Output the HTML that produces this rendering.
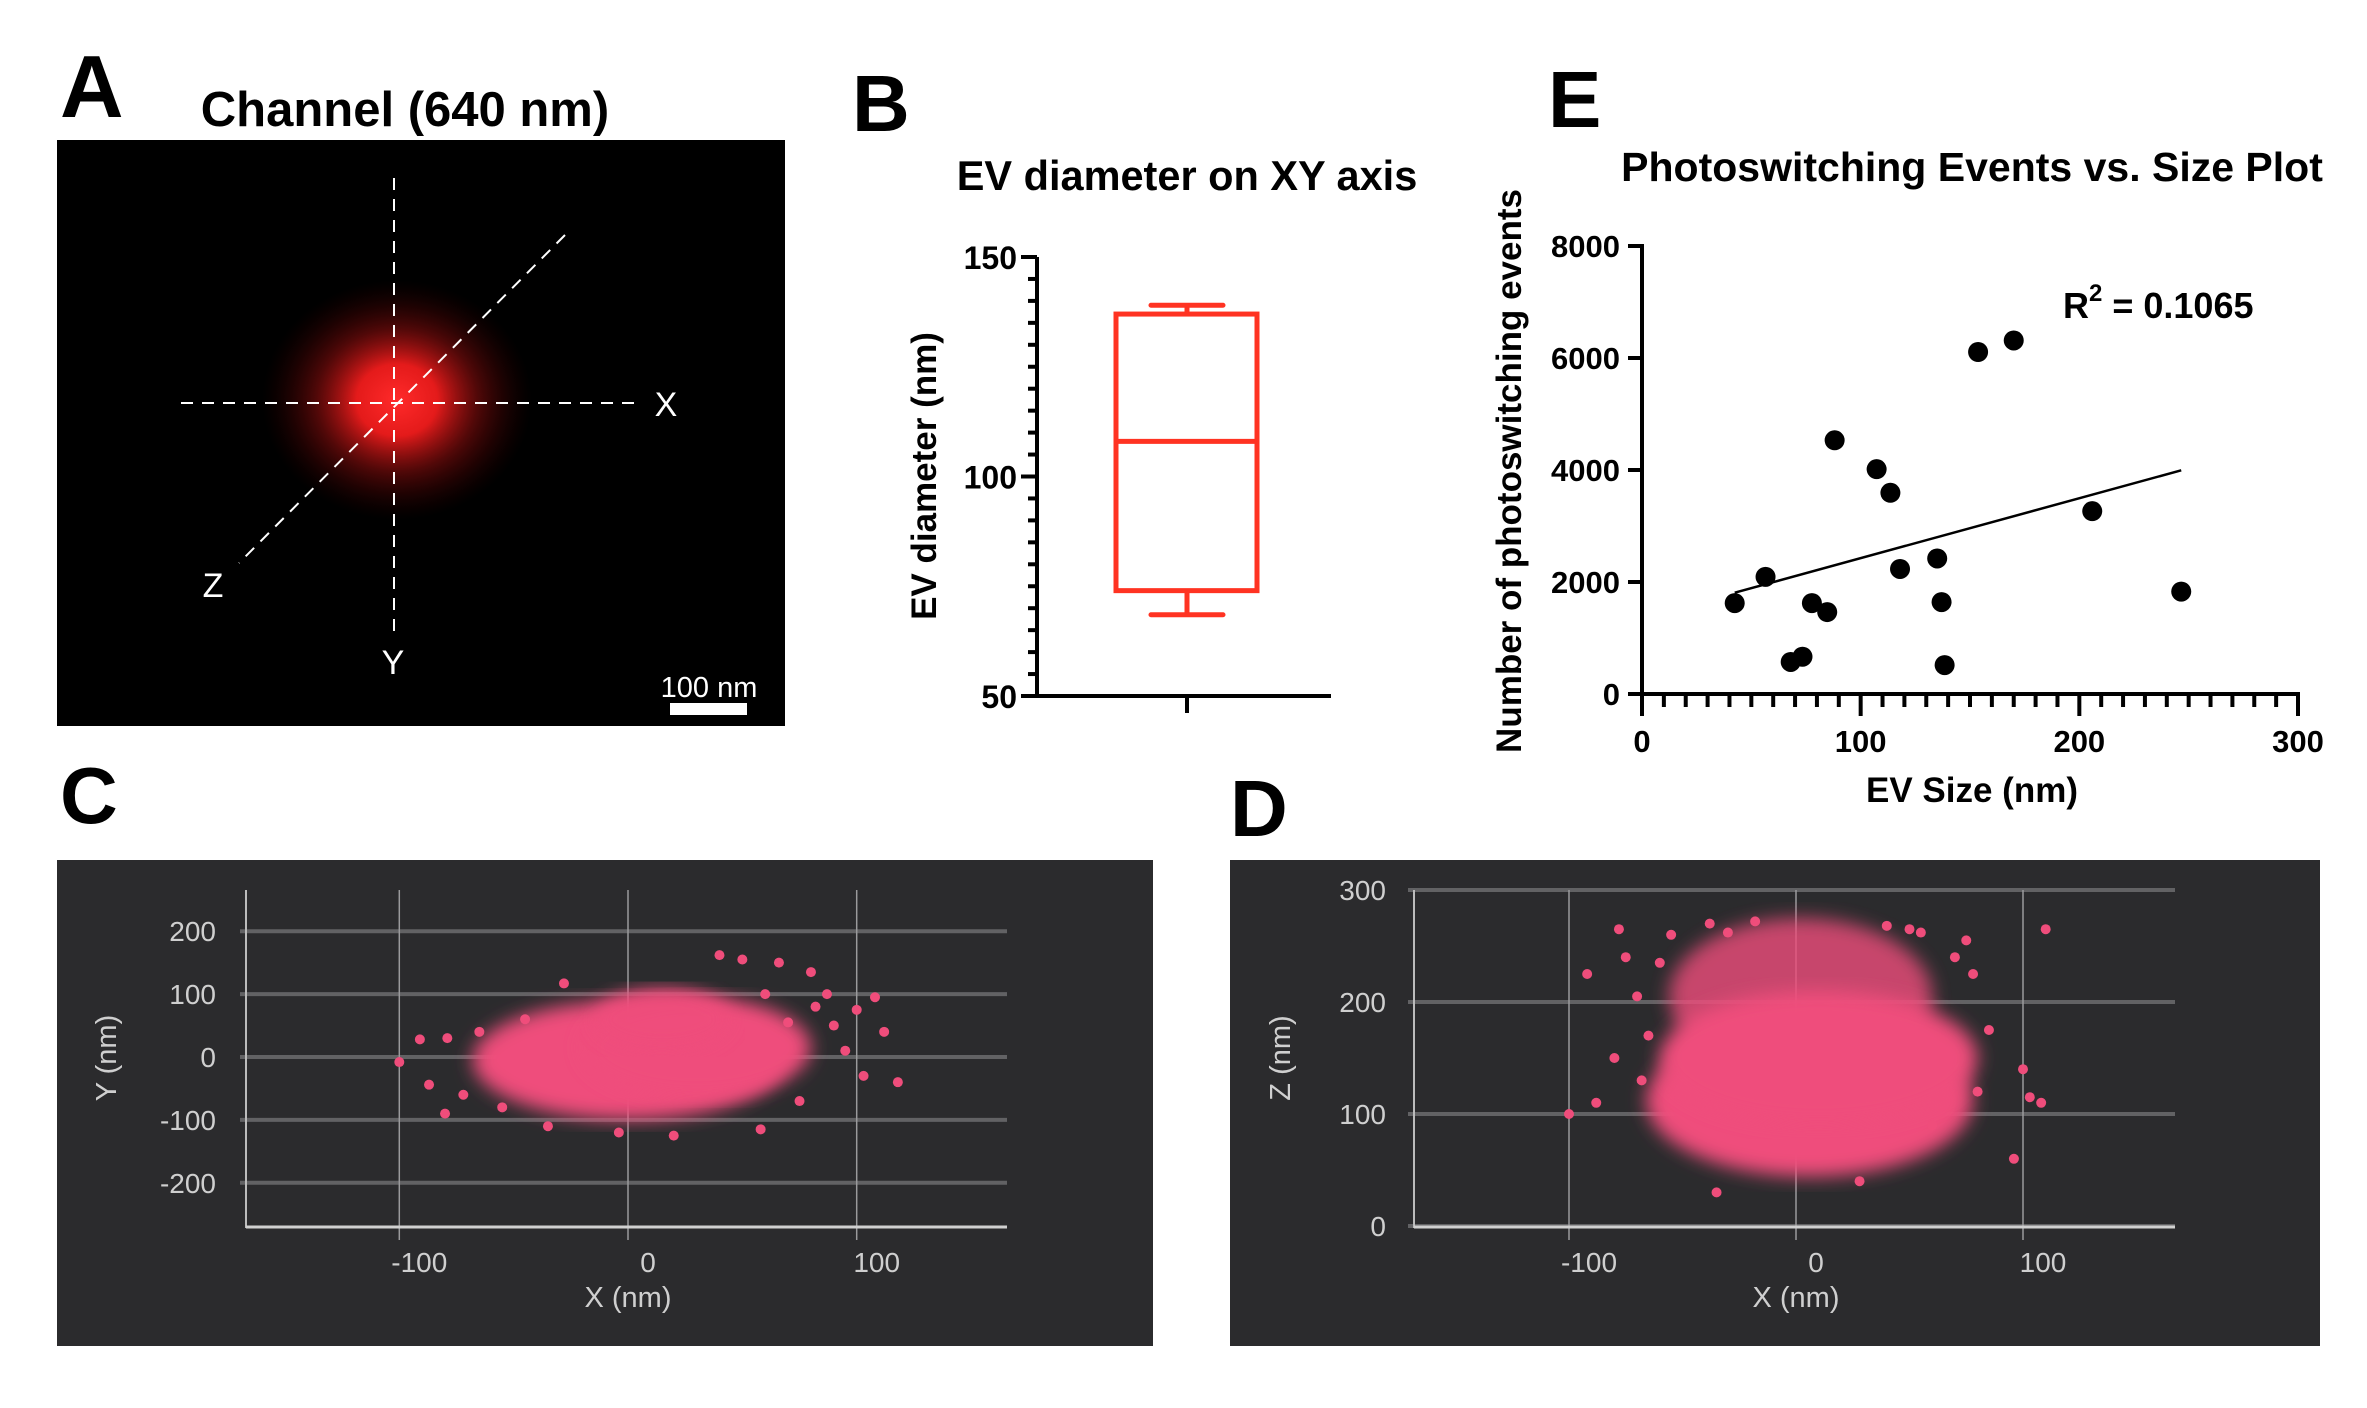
<!DOCTYPE html>
<html><head><meta charset="utf-8">
<style>
html,body{margin:0;padding:0;background:#fff;}
svg{display:block;font-family:"Liberation Sans",sans-serif;}
</style></head>
<body>
<svg id="fig" width="2367" height="1408" viewBox="0 0 2367 1408" xmlns="http://www.w3.org/2000/svg">
<defs>
<radialGradient id="blobg" cx="50%" cy="50%" r="50%">
<stop offset="0" stop-color="#ff2a2a" stop-opacity="1"/>
<stop offset="0.3" stop-color="#f01c1c" stop-opacity="0.95"/>
<stop offset="0.6" stop-color="#a01010" stop-opacity="0.5"/>
<stop offset="1" stop-color="#400000" stop-opacity="0"/>
</radialGradient>
<filter id="soft"><feGaussianBlur stdDeviation="9"/></filter>
</defs>

<!-- Panel A -->
<text x="60" y="117" font-size="88" font-weight="bold">A</text>
<text x="405" y="126" font-size="49" font-weight="bold" text-anchor="middle">Channel (640 nm)</text>
<rect x="57" y="140" width="728" height="586" fill="#000"/>
<ellipse cx="397" cy="400" rx="135" ry="120" fill="url(#blobg)"/>
<g stroke="#fff" stroke-width="2" stroke-dasharray="12,9" fill="none">
<line x1="394" y1="178" x2="394" y2="634"/>
<line x1="181" y1="403" x2="642" y2="403"/>
<line x1="565" y1="235" x2="239" y2="563"/>
</g>
<text x="666" y="416" font-size="34" fill="#fff" text-anchor="middle">X</text>
<text x="213" y="597" font-size="34" fill="#fff" text-anchor="middle">Z</text>
<text x="393" y="674" font-size="34" fill="#fff" text-anchor="middle">Y</text>
<rect x="670" y="703" width="77" height="12" fill="#fff"/>
<text x="709" y="697" font-size="29" fill="#fff" text-anchor="middle">100 nm</text>

<!-- Panel B -->
<text x="852" y="131" font-size="80" font-weight="bold">B</text>
<text x="1187" y="190" font-size="41.5" font-weight="bold" text-anchor="middle">EV diameter on XY axis</text>
<g id="boxB"></g>

<!-- Panel E -->
<text x="1548" y="127" font-size="80" font-weight="bold">E</text>
<text x="1972" y="181" font-size="41" font-weight="bold" text-anchor="middle">Photoswitching Events vs. Size Plot</text>
<g id="scatE"></g>

<!-- Panel C / D -->
<text x="60" y="823" font-size="80" font-weight="bold">C</text>
<text x="1230" y="836" font-size="80" font-weight="bold">D</text>
<rect x="57" y="860" width="1096" height="486" fill="#2b2b2d"/>
<rect x="1230" y="860" width="1090" height="486" fill="#2b2b2d"/>
<g id="plotC"></g>
<g id="plotD"></g>
</svg>

<script>
// ---------- Panel B data ----------
const boxStats = [68.5, 74, 108, 137, 139]; // min, q1, median, q3, max
const bTicks = [50, 100, 150];
// ---------- Panel E data ----------
const evSize = [42.4,56.5,68,73.4,77.7,84.7,88.1,107.3,113.6,118,135,137,138.4,153.7,170,205.9,246.6];
const evEvents = [1623,2092,572,666,1623,1463,4531,4015,3593,2233,2420,1641,516,6107,6313,3265,1829];
const fitIntercept = [1356];
const fitSlope = [10.7];
const fitRange = [42.4, 246.6];
const eYTicks = [0,2000,4000,6000,8000];
const eXTicks = [0,100,200,300];
// ---------- Panel C data (nm) ----------
const cXTicks = [-100,0,100];
const cYTicks = [-200,-100,0,100,200];
const cCoreX = [0, 30, 15]; const cCoreY = [-5, 15, 60]; const cCoreRX = [68, 50, 30]; const cCoreRY = [95, 80, 50];
const cOutX = [-100,-91,-79,-87,-80,-72,-28,40,50,66,80,87,82,100,108,112,118,103,58,20,-4,-35,95,90,70,60,-65,-55,75,-45];
const cOutY = [-8,28,30,-44,-90,-60,117,162,155,150,135,100,80,75,95,40,-40,-30,-115,-125,-120,-110,10,50,55,100,40,-80,-70,60];
// ---------- Panel D data (nm) ----------
const dXTicks = [-100,0,100];
const dZTicks = [0,100,200,300];
const dCoreX = [6, 2, 10]; const dCoreZ = [112, 205, 150]; const dCoreRX = [72, 58, 70]; const dCoreRZ = [68, 70, 60];
const dOutX = [-100,-92,-78,-75,-70,-65,-55,-38,-30,-18,40,50,55,75,78,110,103,108,96,-35,28,-88,60,85,100,-80,-60,70,-68,80];
const dOutZ = [100,225,265,240,205,170,260,270,262,272,268,265,262,255,225,265,115,110,60,30,40,110,90,175,140,150,235,240,130,120];

const NS = 'http://www.w3.org/2000/svg';
function mk(parent, tag, attrs, text){
  const e = document.createElementNS(NS, tag);
  for (const k in attrs) e.setAttribute(k, attrs[k]);
  if (text !== undefined) e.textContent = text;
  parent.appendChild(e); return e;
}

// ===== Panel B =====
(function(){
  const g = document.getElementById('boxB');
  const y = v => 696 - (v - 50) * (696 - 257) / 100;
  const ax = 1037;
  let e = mk(g,'line',{x1:ax,y1:257,x2:ax,y2:698,stroke:'#000','stroke-width':4});
   
  e = mk(g,'line',{x1:1027,y1:696,x2:1331,y2:696,stroke:'#000','stroke-width':4});
   
  e = mk(g,'line',{x1:1187,y1:696,x2:1187,y2:713,stroke:'#000','stroke-width':4});
   
  for (let v = 50; v <= 150; v += 5){
    const major = bTicks.includes(v);
    e = mk(g,'line',{x1:ax-(major?16:9),y1:y(v),x2:ax,y2:y(v),stroke:'#000','stroke-width':4});
    
    
  }
  bTicks.forEach(v=>{
    e = mk(g,'text',{x:1017,y:y(v)+12,'font-size':32,'font-weight':'bold','text-anchor':'end'}, String(v));
     
  });
  e = mk(g,'text',{x:0,y:0,'font-size':35,'font-weight':'bold','text-anchor':'middle',transform:'translate(936,476) rotate(-90)'},'EV diameter (nm)');
   
  const red = '#ff3322', sw = 5, bx1 = 1116, bx2 = 1257, cx = 1187, cw = 36;
  e = mk(g,'rect',{x:bx1,y:y(boxStats[3]),width:bx2-bx1,height:y(boxStats[1])-y(boxStats[3]),fill:'none',stroke:red,'stroke-width':sw});
   
  e = mk(g,'line',{x1:bx1,y1:y(boxStats[2]),x2:bx2,y2:y(boxStats[2]),stroke:red,'stroke-width':sw});
   
  e = mk(g,'line',{x1:cx,y1:y(boxStats[3]),x2:cx,y2:y(boxStats[4]),stroke:red,'stroke-width':sw});
   
  e = mk(g,'line',{x1:cx-cw,y1:y(boxStats[4]),x2:cx+cw,y2:y(boxStats[4]),stroke:red,'stroke-width':sw,'stroke-linecap':'round'});
   
  e = mk(g,'line',{x1:cx,y1:y(boxStats[1]),x2:cx,y2:y(boxStats[0]),stroke:red,'stroke-width':sw});
   
  e = mk(g,'line',{x1:cx-cw,y1:y(boxStats[0]),x2:cx+cw,y2:y(boxStats[0]),stroke:red,'stroke-width':sw,'stroke-linecap':'round'});
   
})();

// ===== Panel E =====
(function(){
  const g = document.getElementById('scatE');
  const x = v => 1642 + v * (2298 - 1642) / 300;
  const y = v => 694 - v * (694 - 246) / 8000;
  let e = mk(g,'line',{x1:1642,y1:244,x2:1642,y2:696,stroke:'#000','stroke-width':4});
   
  e = mk(g,'line',{x1:1640,y1:694,x2:2300,y2:694,stroke:'#000','stroke-width':4});
   
  eYTicks.forEach(v=>{
    e = mk(g,'line',{x1:1628,y1:y(v),x2:1642,y2:y(v),stroke:'#000','stroke-width':4});
     
    e = mk(g,'text',{x:1620,y:y(v)+11,'font-size':31,'font-weight':'bold','text-anchor':'end'},String(v));
     
  });
  for (let v = 0; v <= 300; v += 10){
    const major = eXTicks.includes(v);
    e = mk(g,'line',{x1:x(v),y1:694,x2:x(v),y2:694+(major?22:13),stroke:'#000','stroke-width':4});
    
    
  }
  eXTicks.forEach(v=>{
    e = mk(g,'text',{x:x(v),y:752,'font-size':31,'font-weight':'bold','text-anchor':'middle'},String(v));
     
  });
  e = mk(g,'text',{x:1972,y:802,'font-size':35,'font-weight':'bold','text-anchor':'middle'},'EV Size (nm)');
   
  e = mk(g,'text',{x:0,y:0,'font-size':35,'font-weight':'bold','text-anchor':'middle',transform:'translate(1521,471) rotate(-90)'},'Number of photoswitching events');
   
  const f = v => fitIntercept[0] + fitSlope[0] * v;
  e = mk(g,'line',{x1:x(fitRange[0]),y1:y(f(fitRange[0])),x2:x(fitRange[1]),y2:y(f(fitRange[1])),stroke:'#000','stroke-width':2.5});
   
  evSize.forEach((s,i)=>{
    e = mk(g,'circle',{cx:x(s),cy:y(evEvents[i]),r:10,fill:'#000'});
     
  });
  e = mk(g,'text',{x:2063,y:318,'font-size':36,'font-weight':'bold'});
   
  mk(e,'tspan',{},'R');
  mk(e,'tspan',{dy:-17,'font-size':24},'2');
  mk(e,'tspan',{dy:17},' = 0.1065');
})();

// ===== Panels C and D =====
function darkPlot(gid, o){
  const g = document.getElementById(gid);
  const x = v => o.x0 + v * o.sx;
  const y = v => o.y0 - v * o.sy;
  let e;
  o.yt.forEach(v=>{
    e = mk(g,'line',{x1:o.axX-6,y1:y(v),x2:o.right,y2:y(v),stroke:'#626264','stroke-width':4});
     
    e = mk(g,'text',{x:o.labX,y:y(v)+10,'font-size':28,fill:'#cfcfcf','text-anchor':'end'},String(v));
     
  });
  o.xt.forEach(v=>{
    e = mk(g,'line',{x1:x(v),y1:890,x2:x(v),y2:1240,stroke:'#9a9a9c','stroke-width':1.5});
     
    e = mk(g,'text',{x:x(v)+20,y:1272,'font-size':28,fill:'#cfcfcf','text-anchor':'middle'},String(v));
     
  });
  e = mk(g,'line',{x1:o.axX,y1:890,x2:o.axX,y2:1228,stroke:'#bcbcbc','stroke-width':2});
   
  e = mk(g,'line',{x1:o.axX,y1:1227,x2:o.right,y2:1227,stroke:'#d0d0d0','stroke-width':3});
   
  e = mk(g,'text',{x:x(0),y:1307,'font-size':29,fill:'#cfcfcf','text-anchor':'middle'},'X (nm)');
   
  e = mk(g,'text',{x:0,y:0,'font-size':29,fill:'#cfcfcf','text-anchor':'middle',transform:'translate('+o.ylx+',1058) rotate(-90)'},o.ylab);
   
  o.cx.forEach((cx,i)=>{
    e = mk(g,'ellipse',{cx:x(cx),cy:y(o.cy[i]),rx:o.rx[i]*o.sx,ry:o.ry[i]*o.sy,fill:'#ef4d7b',opacity:o.op[i],filter:'url(#soft)'});
     
  });
  o.ox.forEach((v,i)=>{
    e = mk(g,'circle',{cx:x(v),cy:y(o.oy[i]),r:5,fill:'#ef4d7b'});
     
  });
}
darkPlot('plotC',{x0:628,sx:2.287,y0:1057,sy:0.629,axX:246,right:1007,labX:216,ylx:116,ylab:'Y (nm)',
  xt:cXTicks,yt:cYTicks,cx:cCoreX,cy:cCoreY,rx:cCoreRX,ry:cCoreRY,op:[1,1,0.9],ox:cOutX,oy:cOutY});
darkPlot('plotD',{x0:1796,sx:2.27,y0:1226,sy:1.12,axX:1414,right:2175,labX:1386,ylx:1290,ylab:'Z (nm)',
  xt:dXTicks,yt:dZTicks,cx:dCoreX,cy:dCoreZ,rx:dCoreRX,ry:dCoreRZ,op:[1,0.8,1],ox:dOutX,oy:dOutZ});
</script>
</body></html>
